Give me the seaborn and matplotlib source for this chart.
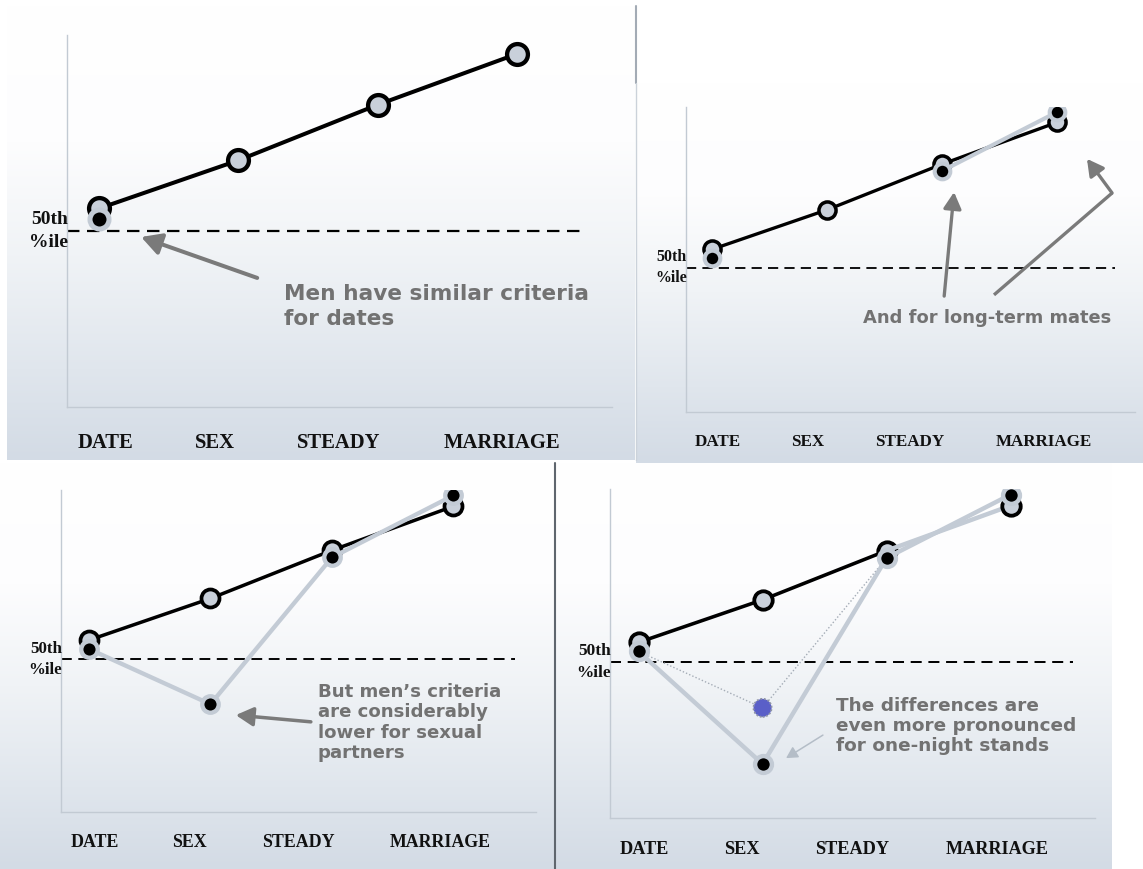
import numpy as np
import pandas as pd
import matplotlib
matplotlib.use("Agg")
import matplotlib.pyplot as plt
from matplotlib.colors import LinearSegmentedColormap
import seaborn as sns

sns.set_style("white")
plt.rcParams["font.family"] = ["DejaVu Sans"]

# ---- data: minimum intelligence criteria (percentile) by relationship type ----
categories = ["DATE", "SEX", "STEADY", "MARRIAGE"]
women = [55.7, 68.0, 82.2, 95.2]
men_date = 53.1
men_sex_partner = 36.8
men_one_night = 20.6
men_steady = 80.1
men_marriage = 98.4
median_pct = 50

notes = [
    "Men have similar criteria\nfor dates",
    "And for long-term mates",
    "But men\u2019s criteria\nare considerably\nlower for sexual\npartners",
    "The differences are\neven more pronounced\nfor one-night stands",
]

# ---- styling ----
W, H = 1143, 869
WOMEN_FILL = "#c9d0da"
MEN_GREY = "#c3cbd5"
NOTE_GREY = "#727272"
ARROW_GREY = "#7a7a7a"
label_x = [0.045, 0.83, 1.72, 2.89]
XLIM = (-0.23, 3.68)
YLIM = (5, 100)

fig = plt.figure(figsize=(W / 100, H / 100), dpi=100)

# slide backgrounds (pixel canvas)
bg = fig.add_axes([0, 0, 1, 1])
bg.axis("off")
grad = LinearSegmentedColormap.from_list(
    "slide", [(0, "#ffffff"), (0.3, "#fdfdfe"), (0.55, "#f0f3f6"),
              (0.8, "#e0e6ed"), (1, "#d3dbe5")])
g = np.linspace(0, 1, 256)[:, None]


def slide(x0, x1, y0, y1):
    bg.imshow(g, cmap=grad, extent=(x0, x1, y1, y0), aspect="auto",
              interpolation="bicubic", zorder=0)


slide(7, 635, 6, 460)
slide(636, 1143, 83, 463)
slide(0, 554, 463, 869)
slide(555, 1112, 463, 869)
bg.plot([636, 636], [6, 83], color="#a3abb5", lw=1.5, zorder=2)
bg.plot([635.5, 635.5], [83, 460], color="#cbd2da", lw=1.0, zorder=2)
bg.plot([554.5, 554.5], [463, 869], color="#5f666e", lw=1.5, zorder=2)
bg.set_xlim(0, W)
bg.set_ylim(H, 0)


def make_panel(x0, x1, y0, y1):
    ax = fig.add_axes([x0 / W, 1 - y1 / H, (x1 - x0) / W, (y1 - y0) / H])
    ax.set_xlim(*XLIM)
    ax.set_ylim(*YLIM)
    ax.patch.set_alpha(0)
    for side in ("top", "right"):
        ax.spines[side].set_visible(False)
    for side in ("left", "bottom"):
        ax.spines[side].set_color("#c2cad3")
        ax.spines[side].set_linewidth(1.0)
    ax.set_xticks([])
    ax.set_yticks([])
    return ax


def decorate(ax, s):
    ax.axhline(median_pct, xmin=0, xmax=0.955, color="black", lw=1.6 * s,
               dashes=(5.6, 3.4), zorder=1)
    for pos, lab in zip(label_x, categories):
        ax.text(pos, -0.11, lab, transform=ax.get_xaxis_transform(), ha="center",
                va="baseline", fontsize=14.9 * s, fontweight="bold",
                family="Liberation Serif", color="#111111")
    ax.text(0.002, median_pct, "50th\n%ile", transform=ax.get_yaxis_transform(),
            ha="right", va="center", multialignment="right", fontsize=14 * s,
            fontweight="bold", family="Liberation Serif", linespacing=1.45,
            color="#111111")


def series(ax, idx, vals, s, kind, line_color=None, z=3):
    df = pd.DataFrame({"x": idx, "y": vals})
    if kind == "women":
        sns.lineplot(data=df, x="x", y="y", ax=ax, sort=False, estimator=None,
                     color=line_color or "black", lw=2.9 * s, marker="o",
                     ms=15 * s, mfc=WOMEN_FILL, mec="black", mew=3.1 * s,
                     zorder=z, legend=False)
    else:
        sns.lineplot(data=df, x="x", y="y", ax=ax, sort=False, estimator=None,
                     color=MEN_GREY, lw=3.6 * s, marker="o", ms=13.7 * s,
                     mfc="black", mec=MEN_GREY, mew=3.6 * s, zorder=z,
                     legend=False)
    ax.set(xlabel="", ylabel="")


def note(ax, text, xy, size, ls=1.28):
    ax.text(*xy, text, transform=ax.transAxes, ha="left", va="center",
            fontsize=size, fontweight="bold", color=NOTE_GREY, linespacing=ls)


def arrow(ax, tail, head, s, color=ARROW_GREY, lw=None, ms=22):
    ax.annotate("", xy=head, xytext=tail, xycoords="axes fraction",
                textcoords="axes fraction",
                arrowprops=dict(arrowstyle="-|>,head_length=0.55,head_width=0.3",
                                color=color, lw=lw if lw else 2.9 * s,
                                shrinkA=0, shrinkB=0, mutation_scale=ms * s))


# ---- panel 1: dates ----
s1 = 1.0
ax1 = make_panel(67, 612, 35, 407)
decorate(ax1, s1)
series(ax1, [0, 1, 2, 3], women, s1, "women")
series(ax1, [0], [men_date], s1, "men", z=4)
note(ax1, notes[0], (0.398, 0.270), 15.6)
arrow(ax1, (0.349, 0.347), (0.136, 0.457), s1)

# ---- panel 2: long-term mates ----
s2 = 305 / 372
ax2 = make_panel(686, 1135, 107, 412)
decorate(ax2, s2)
series(ax2, [0, 1, 2, 3], women, s2, "women")
series(ax2, [0], [men_date], s2, "men", z=4)
series(ax2, [2, 3], [men_steady, men_marriage], s2, "men", z=4)
note(ax2, notes[1], (0.394, 0.308), 12.9)
arrow(ax2, (0.575, 0.380), (0.597, 0.721), s2)
ax2.plot([0.686, 0.949], [0.384, 0.718], transform=ax2.transAxes,
         color=ARROW_GREY, lw=2.9 * s2, solid_capstyle="butt", zorder=2)
arrow(ax2, (0.949, 0.718), (0.893, 0.830), s2)

# ---- panel 3: sexual partners ----
s3 = 322 / 372
ax3 = make_panel(61, 536, 490, 812)
decorate(ax3, s3)
series(ax3, [0, 1, 2, 3], women, s3, "women")
series(ax3, [0, 1, 2, 3], [men_date, men_sex_partner, men_steady, men_marriage],
       s3, "men", z=4)
note(ax3, notes[2], (0.541, 0.278), 13.1, ls=1.18)
arrow(ax3, (0.526, 0.280), (0.368, 0.301), s3)

# ---- panel 4: one-night stands ----
s4 = 329 / 372
ax4 = make_panel(610, 1095, 489, 818)
decorate(ax4, s4)
series(ax4, [0, 1, 2], women[:3], s4, "women")
sns.lineplot(x=[2, 3], y=women[2:], ax=ax4, color=MEN_GREY, lw=3.6 * s4,
             zorder=3.5, legend=False)
ax4.plot([3], [women[3]], "o", ms=15 * s4, mfc=WOMEN_FILL, mec="black",
         mew=3.1 * s4, zorder=3.6)
sns.lineplot(x=[0, 1, 2], y=[men_date, men_sex_partner, men_steady], ax=ax4,
             color="#a4acb6", lw=1.0, ls=(0, (1, 1.5)), zorder=3.7, legend=False)
sns.scatterplot(x=[1], y=[men_sex_partner], ax=ax4, s=170, color="#5a5fc8",
                edgecolor="#8d93a6", linewidth=1.3, linestyle=(0, (1, 1)),
                zorder=3.8, legend=False)
series(ax4, [0, 1, 2, 3], [men_date, men_one_night, men_steady, men_marriage],
       s4, "men", z=4)
note(ax4, notes[3], (0.466, 0.280), 13.3, ls=1.12)
arrow(ax4, (0.439, 0.252), (0.363, 0.182), s4, color="#b4bdc7", lw=1.1, ms=14)

fig.savefig("out.png", dpi=100)
